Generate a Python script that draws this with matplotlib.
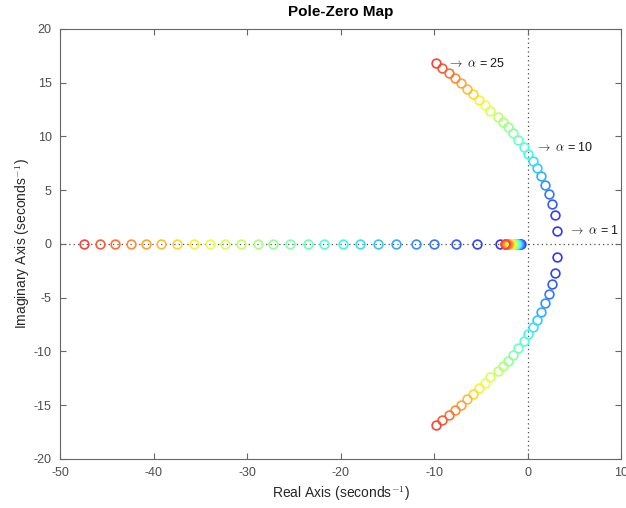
import numpy as np
import matplotlib.pyplot as plt

plt.rcParams['font.family'] = ['Liberation Sans', 'DejaVu Sans']
plt.rcParams['mathtext.fontset'] = 'cm'
plt.rcParams['axes.unicode_minus'] = False

# gain parameter
alpha = np.arange(1, 26)

# closed-loop poles for alpha = 1 ... 25
far_pole = [-2.98, -5.49, -7.69, -10.02, -11.99, -14.12, -16.07, -17.93, -19.80,
            -21.76, -23.53, -25.39, -27.20, -28.86, -30.64, -32.34, -33.94, -35.72,
            -37.49, -39.17, -40.77, -42.44, -44.07, -45.74, -47.40]
near_pole = [-0.72, -0.80, -0.88, -0.95, -1.02, -1.09, -1.16, -1.23, -1.30, -1.37,
             -1.44, -1.51, -1.58, -1.65, -1.72, -1.79, -1.86, -1.94, -2.02, -2.10,
             -2.18, -2.26, -2.34, -2.42, -2.50]
pair_re = [3.11, 2.90, 2.61, 2.29, 1.87, 1.44, 0.98, 0.55, -0.02, -0.45, -1.04, -1.58,
           -2.11, -2.64, -3.22, -4.00, -4.60, -5.24, -5.84, -6.48, -7.12, -7.80, -8.44,
           -9.14, -9.86]
pair_im = [1.24, 2.70, 3.72, 4.65, 5.49, 6.33, 7.04, 7.75, 8.37, 9.00, 9.67, 10.30,
           10.86, 11.38, 11.84, 12.40, 12.93, 13.40, 13.93, 14.42, 14.95, 15.41, 15.88,
           16.34, 16.81]

labelled = [25, 10, 1]

# jet colours, slightly softened
colors = plt.cm.jet(np.linspace(0.11, 0.89, len(alpha)))[:, :3]
colors = 0.8 * colors + 0.2

fig = plt.figure(figsize=(6.26, 5.08), dpi=100)
ax = fig.add_axes([0.0958, 0.0965, 0.8970, 0.8465])

# real and imaginary axis guides
ax.axhline(0, color='0.3', linestyle=(0, (1, 2.5)), linewidth=0.9, zorder=0)
ax.axvline(0, color='0.3', linestyle=(0, (1, 2.5)), linewidth=0.9, zorder=0)

for i, a in enumerate(alpha):
    xs = [far_pole[i], near_pole[i], pair_re[i], pair_re[i]]
    ys = [0, 0, pair_im[i], -pair_im[i]]
    ax.plot(xs, ys, 'o', markersize=6.3, markerfacecolor='none',
            markeredgecolor=colors[i], markeredgewidth=1.2, linestyle='none')

for a in labelled:
    i = a - 1
    ax.annotate(r'$\rightarrow\ \alpha$ = %d' % a, (pair_re[i], pair_im[i]),
                xytext=(8, 0), textcoords='offset points',
                ha='left', va='center', fontsize=9, color='0.1')

ax.set_xlim(-50, 10)
ax.set_ylim(-20, 20)
ax.set_xticks(range(-50, 11, 10))
ax.set_yticks(range(-20, 21, 5))

ax.set_title('Pole-Zero Map', fontsize=11, fontweight='bold', pad=9)
ax.set_xlabel('Real Axis (seconds$^{-1}$)', fontsize=10, color='0.15')
ax.set_ylabel('Imaginary Axis (seconds$^{-1}$)', fontsize=10, color='0.15',
              labelpad=1)

ax.tick_params(direction='in', top=True, right=True, length=4, width=0.8,
               colors='0.4', labelcolor='0.3', labelsize=9, pad=6)
for spine in ax.spines.values():
    spine.set_color('0.4')
    spine.set_linewidth(0.8)

plt.savefig('out.png', dpi=100)
